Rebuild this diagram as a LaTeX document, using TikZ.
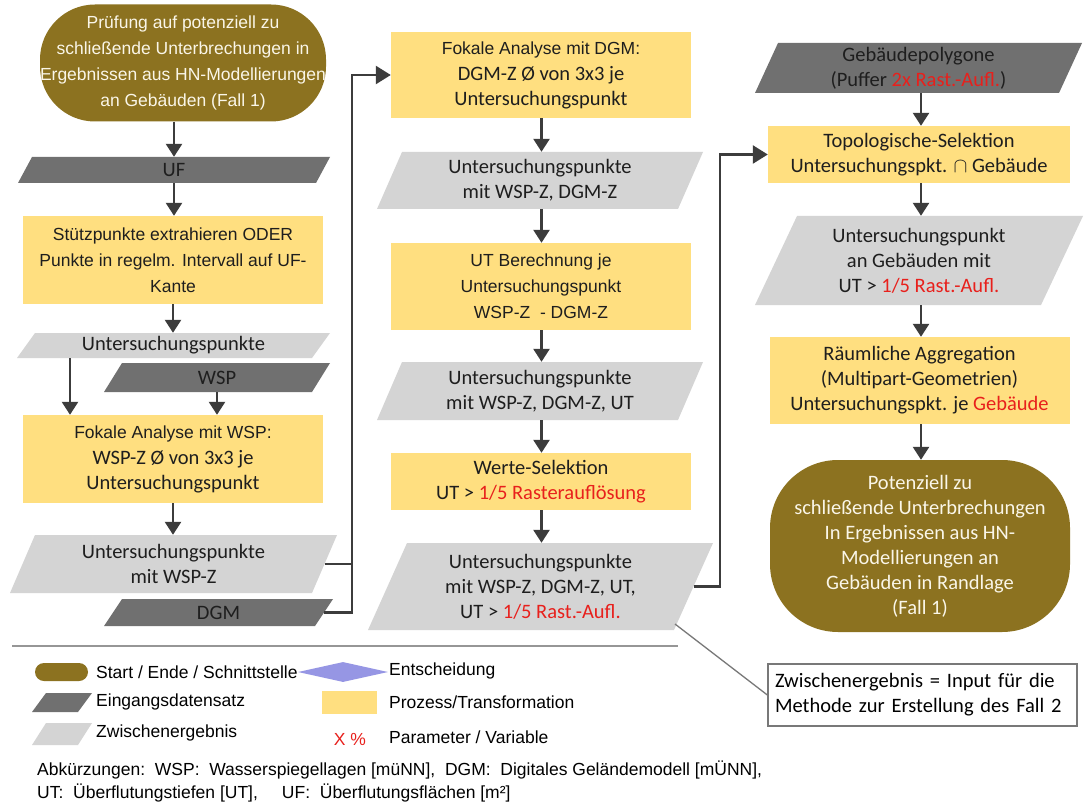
\documentclass[tikz,border=0pt]{standalone}
\usepackage{fontspec}
\setmainfont{Carlito}
\newfontfamily\arialfam{Liberation Sans}
\usetikzlibrary{arrows.meta,shapes.geometric,calc}
\definecolor{termc}{RGB}{140,114,32}
\definecolor{termtxt}{RGB}{250,246,232}
\definecolor{procyel}{RGB}{255,223,128}
\definecolor{darkpara}{RGB}{112,112,112}
\definecolor{lightpara}{RGB}{212,212,212}
\definecolor{arrowc}{RGB}{60,60,60}
\definecolor{txt}{RGB}{30,30,30}
\definecolor{redtxt}{RGB}{232,32,28}
\definecolor{lav}{RGB}{150,150,228}
\definecolor{sepc}{RGB}{150,150,150}
\definecolor{calc}{RGB}{120,120,120}
\newcommand\arsz{\arialfam\fontsize{17.5pt}{26pt}\selectfont}
\newcommand\casz{\fontsize{20.5pt}{25pt}\selectfont}
\newcommand\rd[1]{\textcolor{redtxt}{#1}}
% parallelogram: name, cx, cy, w, h, slant, fill, text
\newcommand\pgram[8]{%
  \fill[#7] ({#2-#4/2},{#3+#5/2}) -- ({#2-#4/2+#6},{#3-#5/2}) -- ({#2+#4/2},{#3-#5/2}) -- ({#2+#4/2-#6},{#3+#5/2}) -- cycle;
  \node[ptext, minimum width=#4pt, minimum height=#5pt] (#1) at (#2,#3) {#8};
}
\tikzset{
  proc/.style={rectangle, fill=procyel, inner sep=0pt, align=center, text=txt, font=\casz, minimum width=300pt},
  ptext/.style={rectangle, inner sep=0pt, align=center, text=txt, font=\casz},
  term/.style={rectangle, fill=termc, text=termtxt, align=center, inner sep=0pt},
  arr/.style={draw=arrowc, line width=2.6pt, -{Triangle[width=16pt,length=13pt]}},
  conn/.style={draw=arrowc, line width=2.5pt, line join=miter},
  connarr/.style={conn, -{Triangle[width=18pt,length=15pt]}},
  lgtext/.style={anchor=west, inner sep=0pt, font=\arsz, text=black},
}
\begin{document}
\begin{tikzpicture}[x=1pt,y=-1pt]
\useasboundingbox (0,0) rectangle (1091,802);
\fill[white] (0,0) rectangle (1091,802);

% ---------- left column ----------
\node[term, rounded corners=55pt, minimum width=285pt, minimum height=117pt, font=\arsz] (start) at (183,63)
  {Prüfung auf potenziell zu\\schließende Unterbrechungen in\\Ergebnissen aus HN-Modellierungen\\an Gebäuden (Fall 1)};
\pgram{uf}{174}{170}{312}{26}{14}{darkpara}{UF}
\node[proc, minimum height=88pt, font=\arsz] (stuetz) at (173,260)
  {Stützpunkte extrahieren ODER\\Punkte in regelm. Intervall auf UF-\\Kante};
\pgram{up1}{173.5}{345.5}{313}{25}{18}{lightpara}{Untersuchungspunkte}
\pgram{wsp}{217}{377.5}{226}{29}{18}{darkpara}{WSP}
\node[proc, minimum height=88pt] (fokwsp) at (173,459)
  {{\arsz Fokale Analyse mit WSP:}\\[1pt]WSP-Z Ø von 3x3 je\\Untersuchungspunkt};
\pgram{upwsp}{173.5}{564}{327}{58}{25}{lightpara}{Untersuchungspunkte\\mit WSP-Z}
\pgram{dgm}{218.5}{612.5}{229}{27}{18}{darkpara}{DGM}

% ---------- middle column ----------
\node[proc, minimum height=86pt] (fokdgm) at (541,75)
  {{\arsz Fokale Analyse mit DGM:}\\[1pt]DGM-Z Ø von 3x3 je\\Untersuchungspunkt};
\pgram{up2}{540}{180.5}{326}{57}{25}{lightpara}{Untersuchungspunkte\\mit WSP-Z, DGM-Z}
\node[proc, minimum height=87pt, font=\arsz] (utber) at (541,286.5)
  {UT Berechnung je\\Untersuchungspunkt\\WSP-Z\ \ - DGM-Z};
\pgram{up3}{540}{391}{326}{58}{25}{lightpara}{Untersuchungspunkte\\mit WSP-Z, DGM-Z, UT}
\node[proc, minimum height=57pt] (werte) at (541,481.5)
  {Werte-Selektion\\UT > \rd{1/5 Rasterauflösung}};
\pgram{up4}{540.5}{586.5}{345}{87}{39}{lightpara}{Untersuchungspunkte\\mit WSP-Z, DGM-Z, UT,\\UT > \rd{1/5 Rast.-Aufl.}}

% ---------- right column ----------
\pgram{geb}{918.5}{68}{327}{50}{23}{darkpara}{Gebäudepolygone\\(Puffer \rd{2x Rast.-Aufl.})}
\node[proc, minimum width=302pt, minimum height=57pt] (topo) at (919,154.5)
  {Topologische-Selektion\\Untersuchungspkt. $\cap$ Gebäude};
\pgram{up5}{919}{260.5}{328}{89}{42}{lightpara}{Untersuchungspunkt\\an Gebäuden mit\\UT > \rd{1/5 Rast.-Aufl.}}
\node[proc, minimum height=87pt] (raeum) at (919.5,380.5)
  {Räumliche Aggregation\\(Multipart-Geometrien)\\Untersuchungspkt. je \rd{Gebäude}};
\node[term, rounded corners=68pt, minimum width=300pt, minimum height=172pt, font=\casz] (endt) at (920,546)
  {Potenziell zu\\schließende Unterbrechungen\\In Ergebnissen aus HN-\\Modellierungen an\\Gebäuden in Randlage\\(Fall 1)};

% ---------- arrows ----------
\draw[arr] (start.south -| uf) -- (uf.north);
\draw[arr] (uf.south) -- (uf.south |- stuetz.north);
\draw[arr] (stuetz.south) -- (stuetz.south |- up1.north);
\coordinate (a1) at (70,0);
\draw[arr] (up1.south -| a1) -- (fokwsp.north -| a1);
\draw[arr] (wsp.south) -- (wsp.south |- fokwsp.north);
\draw[arr] (fokwsp.south) -- (fokwsp.south |- upwsp.north);

\coordinate (bus1) at (352,75);
\draw[conn] ($(upwsp.east)+(-12.5,0)$) -- (upwsp.east -| bus1);
\draw[connarr] ($(dgm.east)+(-9,0)$) -- (dgm.east -| bus1) -- (bus1) -- (fokdgm.west);

\coordinate (m) at (541.5,0);
\draw[arr] (fokdgm.south -| m) -- (up2.north -| m);
\draw[arr] (up2.south -| m) -- (utber.north -| m);
\draw[arr] (utber.south -| m) -- (up3.north -| m);
\draw[arr] (up3.south -| m) -- (werte.north -| m);
\draw[arr] (werte.south -| m) -- (up4.north -| m);

\coordinate (bus2) at (720,154.5);
\draw[connarr] ($(up4.east)+(-19.5,0)$) -- (up4.east -| bus2) -- (bus2) -- (topo.west);

\coordinate (r) at (921,0);
\draw[arr] (geb.south -| r) -- (topo.north -| r);
\draw[arr] (topo.south -| r) -- (up5.north -| r);
\draw[arr] (up5.south -| r) -- (raeum.north -| r);
\draw[arr] (raeum.south -| r) -- (endt.north -| r);

% ---------- callout ----------
\node[draw=calc, line width=1.3pt, fill=white, minimum height=62pt, text width=295pt, inner xsep=7pt, inner ysep=0pt,
  align=left, text=black, font=\casz] (callout) at (922.5,695)
  {Zwischenergebnis = Input für die\\Methode zur Erstellung des Fall 2};
\coordinate (cstart) at (675,624);
\draw[draw=calc, line width=1.3pt] (cstart) -- (callout.west);

% ---------- separator ----------
\coordinate (s1) at (12,646);
\coordinate (s2) at (678,646);
\draw[sepc, line width=2pt] (s1) -- (s2);

% ---------- legend ----------
\node[rectangle, rounded corners=9pt, fill=termc, minimum width=53pt, minimum height=18pt, inner sep=0pt] (lgterm) at (61.5,672) {};
\node[lgtext] (lgt1) at (96,672) {Start / Ende / Schnittstelle};
\node[diamond, fill=lav, minimum width=90pt, minimum height=20pt, inner sep=0pt, aspect=4.5] (lgdia) at (343,672) {};
\node[lgtext] (lgt2) at (389,671) {Entscheidung};
\pgram{lgdark}{62}{702.5}{60}{19}{14}{darkpara}{}
\node[lgtext] (lgt3) at (96,702) {Eingangsdatensatz};
\node[rectangle, fill=procyel, minimum width=55pt, minimum height=23pt, inner sep=0pt] (lgproc) at (349.5,702.5) {};
\node[lgtext] (lgt4) at (389,702) {Prozess/Transformation};
\pgram{lglight}{62}{734}{60}{22}{14}{lightpara}{}
\node[lgtext] (lgt5) at (96,733) {Zwischenergebnis};
\node[inner sep=0pt, font=\arsz, text=redtxt] (lgx) at (350,739) {X \%};
\node[lgtext] (lgt6) at (389,737) {Parameter / Variable};
\node[lgtext] (abk1) at (37,770) {Abkürzungen:\ \ WSP:\ \ Wasserspiegellagen [müNN],\ \ DGM:\ \ Digitales Geländemodell [mÜNN],};
\node[lgtext] (abk2) at (37,793) {UT:\ \ Überflutungstiefen [UT],\hspace*{24pt}UF:\ \ Überflutungsflächen [m²]};
\end{tikzpicture}
\end{document}
